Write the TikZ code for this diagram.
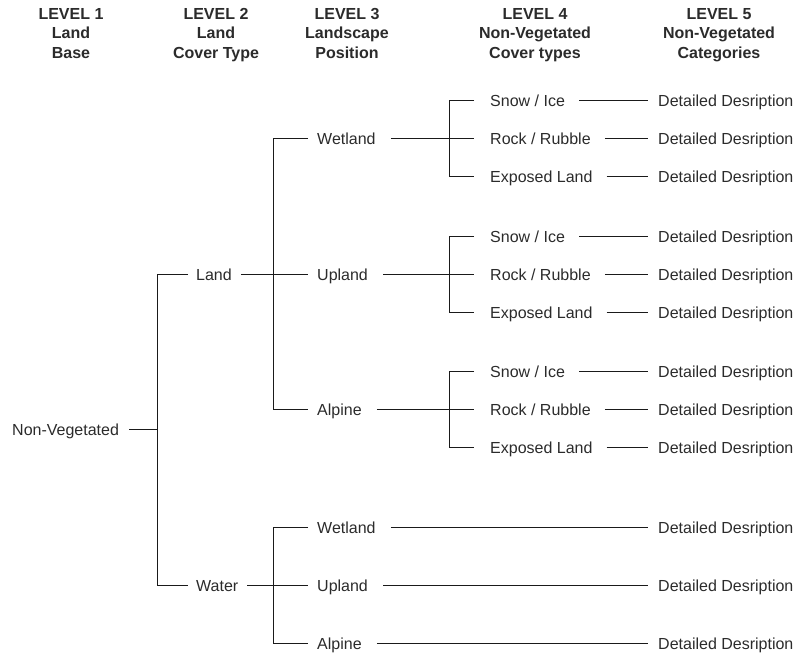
\documentclass[tikz,border=0pt]{standalone}
\usepackage{fontspec}
\setmainfont{Liberation Sans}
\definecolor{txt}{HTML}{2B2B2B}
\definecolor{ln}{HTML}{1A1A1A}
\begin{document}
\begin{tikzpicture}[x=1pt,y=-1pt,
  lbl/.style={inner sep=0pt, anchor=west, text height=11.5pt, text depth=0pt,
    font=\fontsize{16}{19.5}\selectfont, text=txt},
  hdr/.style={inner sep=0pt, anchor=north, align=center,
    font=\fontsize{16}{19.5}\selectfont\bfseries, text=txt},
  conn/.style={draw=ln, line width=1.6pt}]
\useasboundingbox (0,0) rectangle (799,655);

% headers
\node[hdr] (h1) at (71,8) {LEVEL 1\\Land\\Base};
\node[hdr] (h2) at (216,8) {LEVEL 2\\Land\\Cover Type};
\node[hdr] (h3) at (347,8) {LEVEL 3\\Landscape\\Position};
\node[hdr] (h4) at (535,8) {LEVEL 4\\Non-Vegetated\\Cover types};
\node[hdr] (h5) at (719,8) {LEVEL 5\\Non-Vegetated\\Categories};

% level 1 and 2
\node[lbl] (nv) at (12,429.5) {Non-Vegetated};
\node[lbl] (land) at (196,274.5) {Land};
\node[lbl] (water) at (196,585.5) {Water};
\coordinate (j1) at (157.5,429.5);
\draw[conn] ([xshift=10pt]nv.east) -- (j1);
\draw[conn] ([xshift=-8pt]land.west) -| (j1) |- ([xshift=-8pt]water.west);

% land branch: level 3, 4, 5
\coordinate (j2) at (273.5,274.5);
\foreach \g/\y/\name in {1/138.5/Wetland, 2/274.5/Upland, 3/409.5/Alpine} {
  \node[lbl] (p\g) at (317,\y) {\name};
  \node[lbl] (s\g) at (490,{\y-38}) {Snow / Ice};
  \node[lbl] (r\g) at (490,\y) {Rock / Rubble};
  \node[lbl] (e\g) at (490,{\y+38}) {Exposed Land};
  \node[lbl] (ds\g) at (658,{\y-38}) {Detailed Desription};
  \node[lbl] (dr\g) at (658,\y) {Detailed Desription};
  \node[lbl] (de\g) at (658,{\y+38}) {Detailed Desription};
  \coordinate (k\g) at (449.5,\y);
  \draw[conn] ([xshift=15pt]p\g.east) -- ([xshift=-16pt]r\g.west);
  \draw[conn] ([xshift=-16pt]s\g.west) -| (k\g) |- ([xshift=-16pt]e\g.west);
  \draw[conn] ([xshift=14pt]s\g.east) -- ([xshift=-10pt]ds\g.west);
  \draw[conn] ([xshift=14pt]r\g.east) -- ([xshift=-10pt]dr\g.west);
  \draw[conn] ([xshift=14pt]e\g.east) -- ([xshift=-10pt]de\g.west);
}
\draw[conn] ([xshift=9pt]land.east) -- ([xshift=-9pt]p2.west);
\draw[conn] ([xshift=-9pt]p1.west) -| (j2) |- ([xshift=-9pt]p3.west);

% water branch
\coordinate (j3) at (273.5,585.5);
\foreach \g/\y/\name in {4/527.5/Wetland, 5/585.5/Upland, 6/643.5/Alpine} {
  \node[lbl] (p\g) at (317,\y) {\name};
  \node[lbl] (dw\g) at (658,\y) {Detailed Desription};
  \draw[conn] ([xshift=15pt]p\g.east) -- ([xshift=-10pt]dw\g.west);
}
\draw[conn] ([xshift=9pt]water.east) -- ([xshift=-9pt]p5.west);
\draw[conn] ([xshift=-9pt]p4.west) -| (j3) |- ([xshift=-9pt]p6.west);
\end{tikzpicture}
\end{document}
